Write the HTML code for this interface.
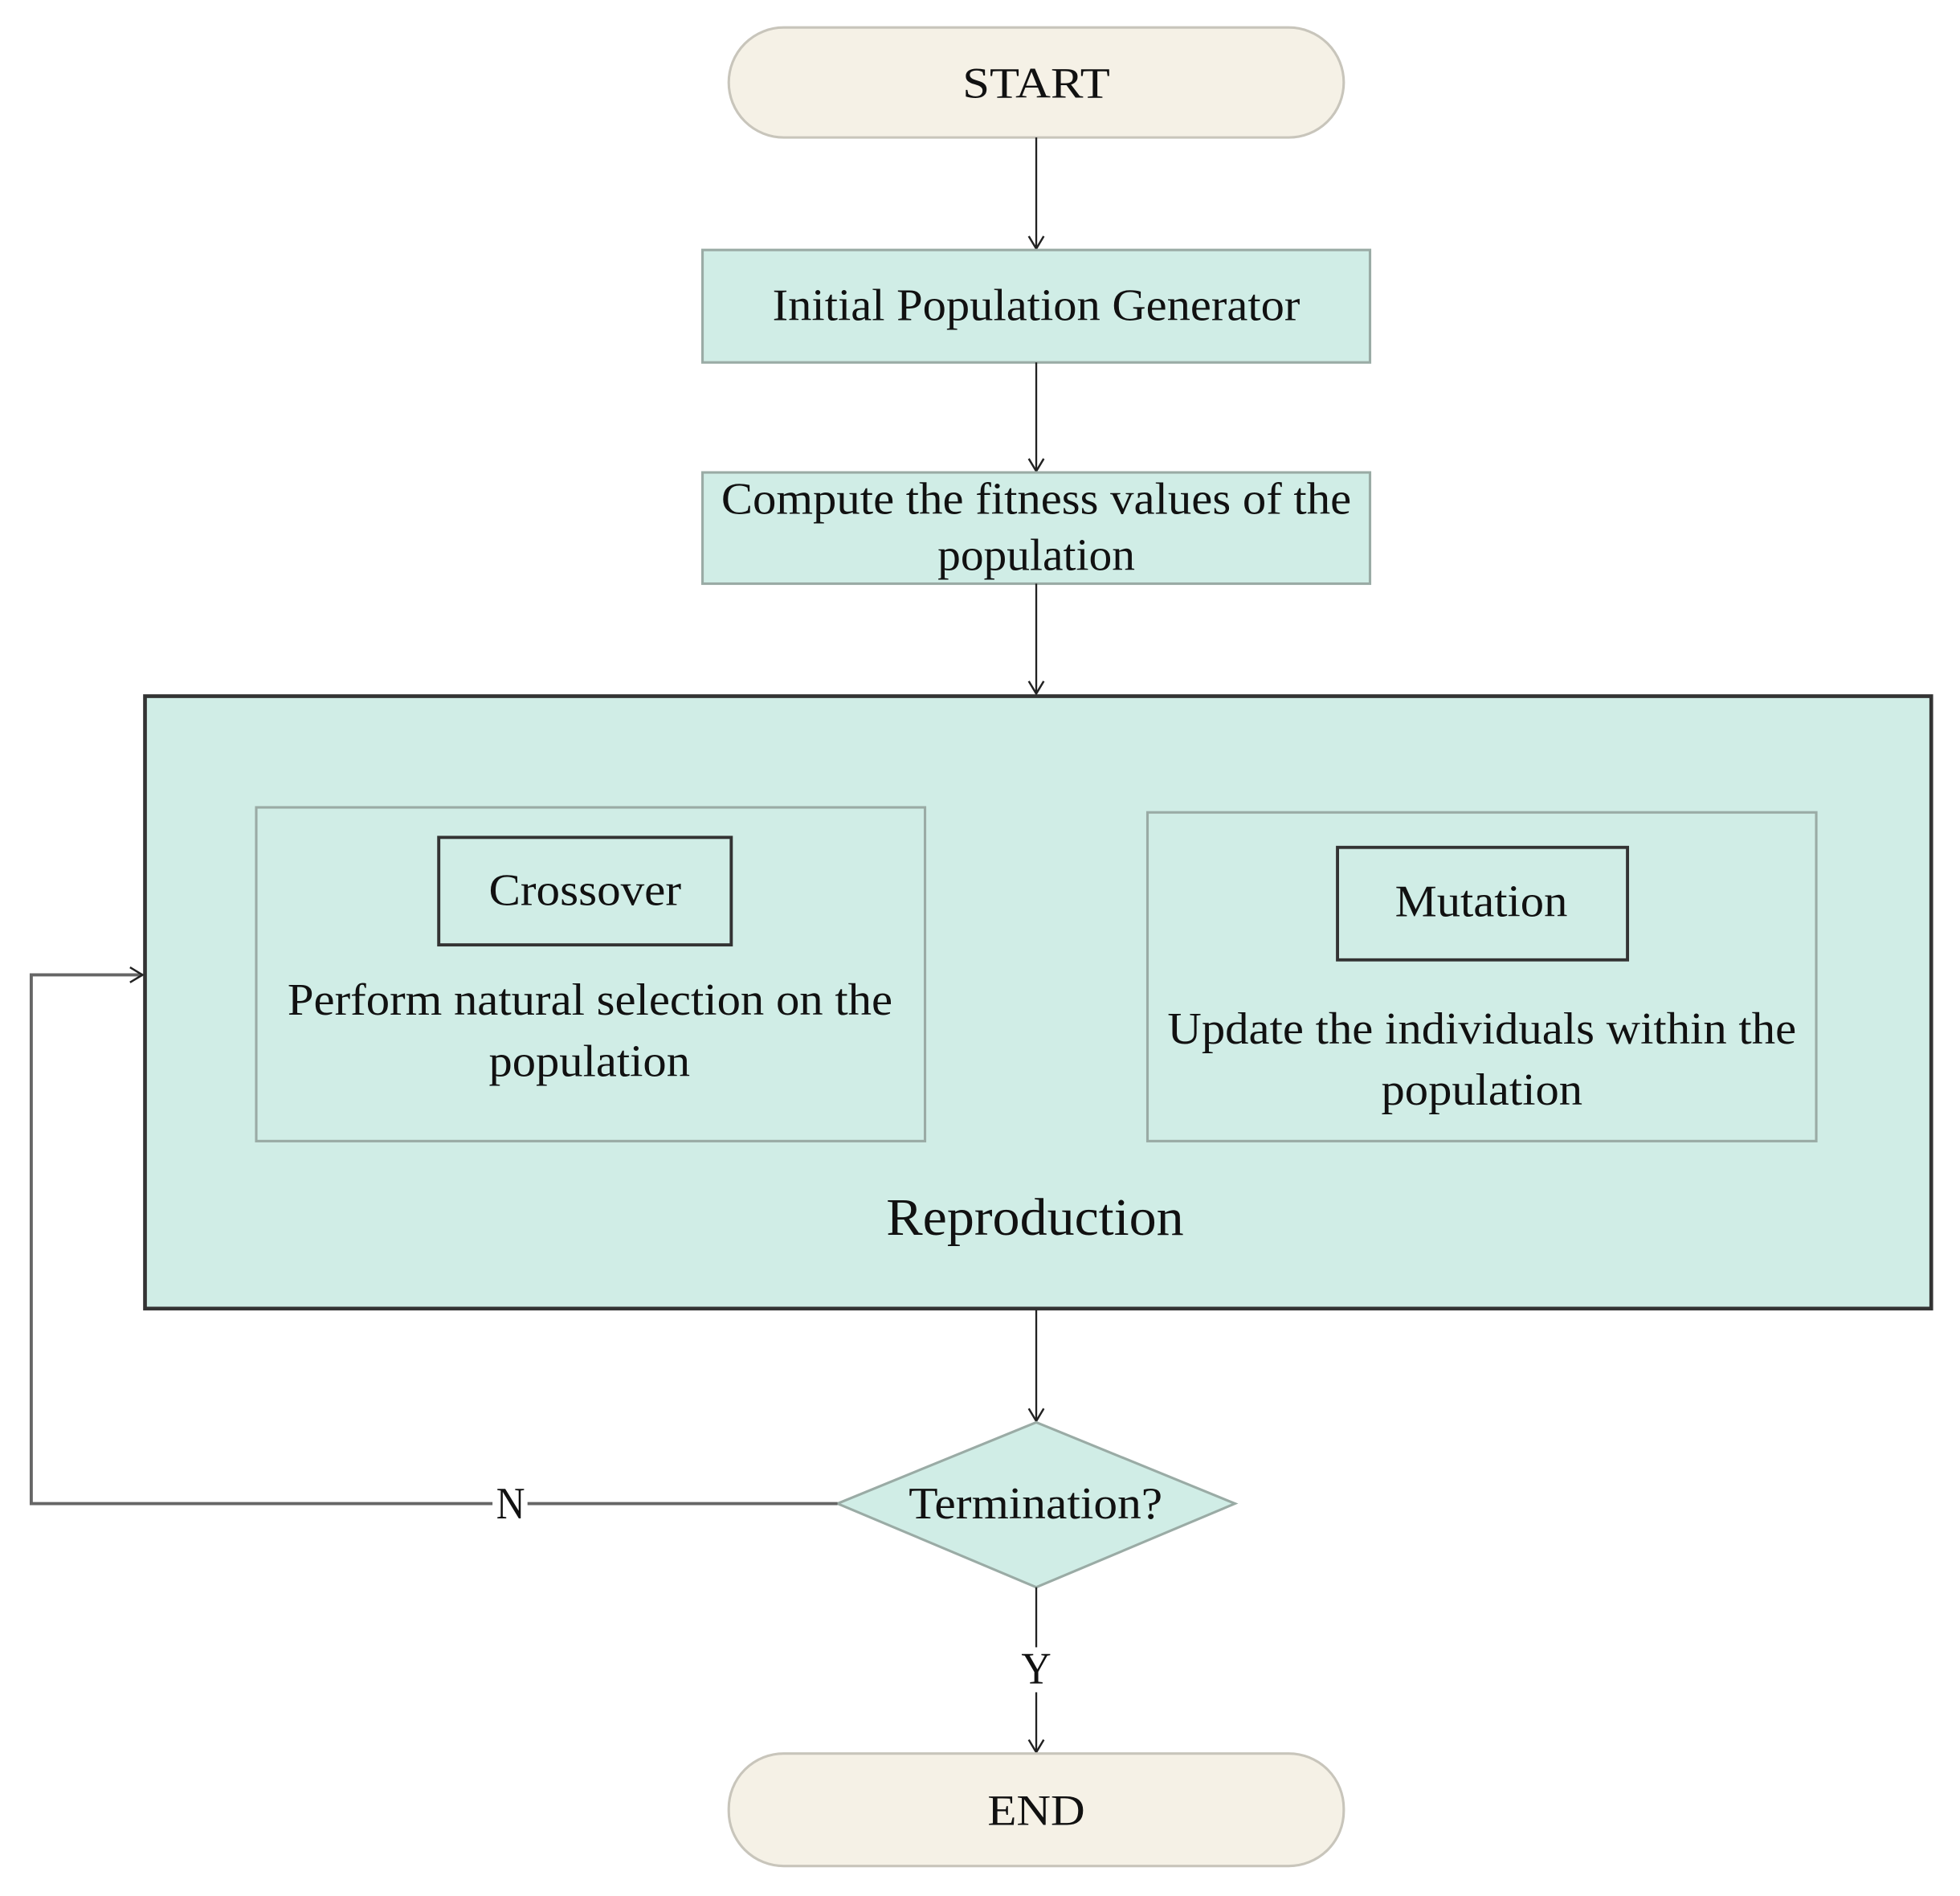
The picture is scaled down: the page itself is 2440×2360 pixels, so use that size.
<!DOCTYPE html>
<html><head><meta charset="utf-8"><style>html,body{margin:0;padding:0;background:#fff}svg{display:block}</style></head>
<body>
<svg width="2440" height="2360" viewBox="0 0 1568 1517" preserveAspectRatio="none" xmlns="http://www.w3.org/2000/svg" font-family="Liberation Serif, serif" fill="#111">
<defs>
<marker id="a" markerWidth="14" markerHeight="14" refX="11" refY="7" orient="auto" markerUnits="userSpaceOnUse"><path d="M1,1 L11,7 L1,13" fill="none" stroke="#222" stroke-width="1.6"/></marker>
</defs>
<rect width="1568" height="1517" fill="#fff"/>
<rect x="583" y="22" width="492" height="88" rx="44" fill="#f5f1e6" stroke="#c8c5bb" stroke-width="2"/>
<text x="770" y="78" font-size="35" textLength="118" lengthAdjust="spacingAndGlyphs">START</text>
<line x1="829" y1="110" x2="829" y2="199" stroke="#222" stroke-width="1.5" marker-end="url(#a)"/>
<rect x="562" y="200" width="534" height="90" fill="#d0ede6" stroke="#9aaba5" stroke-width="2"/>
<text x="618" y="256" font-size="36" textLength="422" lengthAdjust="spacingAndGlyphs">Initial Population Generator</text>
<line x1="829" y1="290" x2="829" y2="377" stroke="#222" stroke-width="1.5" marker-end="url(#a)"/>
<rect x="562" y="378" width="534" height="89" fill="#d0ede6" stroke="#9aaba5" stroke-width="2"/>
<text x="577" y="411" font-size="36" textLength="504" lengthAdjust="spacingAndGlyphs">Compute the fitness values of the</text>
<text x="750" y="456" font-size="36" textLength="158" lengthAdjust="spacingAndGlyphs">population</text>
<line x1="829" y1="467" x2="829" y2="555" stroke="#222" stroke-width="1.5" marker-end="url(#a)"/>
<rect x="116" y="557" width="1429" height="490" fill="#d0ede6" stroke="#333" stroke-width="3"/>
<rect x="205" y="646" width="535" height="267" fill="#d0ede6" stroke="#9aaba5" stroke-width="2"/>
<rect x="351" y="670" width="234" height="86" fill="#d0ede6" stroke="#333" stroke-width="2.5"/>
<text x="391" y="724" font-size="36" textLength="154" lengthAdjust="spacingAndGlyphs">Crossover</text>
<text x="230" y="812" font-size="36" textLength="484" lengthAdjust="spacingAndGlyphs">Perform natural selection on the</text>
<text x="391" y="861" font-size="36" textLength="161" lengthAdjust="spacingAndGlyphs">population</text>
<rect x="918" y="650" width="535" height="263" fill="#d0ede6" stroke="#9aaba5" stroke-width="2"/>
<rect x="1070" y="678" width="232" height="90" fill="#d0ede6" stroke="#333" stroke-width="2.5"/>
<text x="1116" y="733" font-size="36" textLength="138" lengthAdjust="spacingAndGlyphs">Mutation</text>
<text x="934" y="835" font-size="36" textLength="503" lengthAdjust="spacingAndGlyphs">Update the individuals within the</text>
<text x="1105" y="884" font-size="36" textLength="161" lengthAdjust="spacingAndGlyphs">population</text>
<text x="709" y="988" font-size="42" textLength="238" lengthAdjust="spacingAndGlyphs">Reproduction</text>
<line x1="829" y1="1048" x2="829" y2="1137" stroke="#222" stroke-width="1.5" marker-end="url(#a)"/>
<polygon points="829,1138 988,1203 829,1270 670,1203" fill="#d0ede6" stroke="#9aaba5" stroke-width="2"/>
<text x="727" y="1215" font-size="36" textLength="203" lengthAdjust="spacingAndGlyphs">Termination?</text>
<polyline points="670,1203 25,1203 25,780 114,780" fill="none" stroke="#666" stroke-width="2.5" marker-end="url(#a)"/>
<rect x="394" y="1185" width="28" height="36" fill="#fff"/>
<text x="397" y="1215" font-size="36" textLength="23" lengthAdjust="spacingAndGlyphs">N</text>
<line x1="829" y1="1270" x2="829" y2="1402" stroke="#222" stroke-width="1.5" marker-end="url(#a)"/>
<rect x="814" y="1318" width="30" height="36" fill="#fff"/>
<text x="817" y="1347" font-size="36" textLength="24" lengthAdjust="spacingAndGlyphs">Y</text>
<rect x="583" y="1403" width="492" height="90" rx="44" fill="#f5f1e6" stroke="#c8c5bb" stroke-width="2"/>
<text x="790" y="1460" font-size="35" textLength="78" lengthAdjust="spacingAndGlyphs">END</text>
</svg>
</body></html>
